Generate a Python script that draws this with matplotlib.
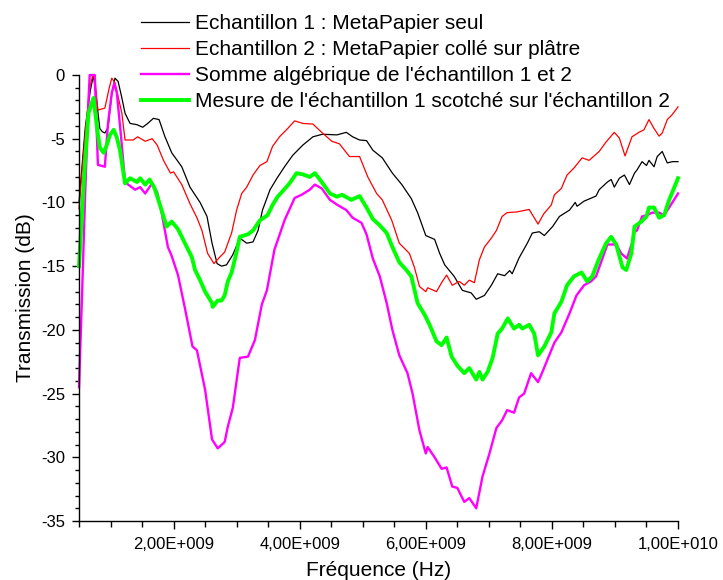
import numpy as np
import matplotlib
matplotlib.use("Agg")
import matplotlib.pyplot as plt
from matplotlib.ticker import FixedLocator, FuncFormatter, MultipleLocator

plt.rcParams['font.family'] = ['Liberation Sans', 'DejaVu Sans']
plt.rcParams['axes.unicode_minus'] = False

# ---- data (frequency in GHz, transmission in dB) ----
f_ech1 = [0.50, 0.60, 0.68, 0.73, 0.79, 0.83, 0.87, 0.91, 0.96, 1.02, 1.07, 1.12, 1.18, 1.23, 1.31,
          1.42, 1.51, 1.59, 1.68, 1.77, 1.86, 1.97, 2.13, 2.26, 2.42, 2.53, 2.61, 2.69, 2.76, 2.84,
          2.94, 3.05, 3.16, 3.26, 3.34, 3.41, 3.53, 3.64, 3.76, 3.89, 4.05, 4.21, 4.36, 4.59, 4.74,
          4.84, 4.95, 5.06, 5.16, 5.31, 5.47, 5.62, 5.77, 5.87, 6.00, 6.14, 6.22, 6.30, 6.45, 6.58,
          6.72, 6.80, 6.93, 7.04, 7.14, 7.25, 7.33, 7.37, 7.48, 7.61, 7.69, 7.80, 7.88, 8.01, 8.12,
          8.28, 8.37, 8.40, 8.51, 8.70, 8.75, 8.88, 8.94, 8.99, 9.07, 9.15, 9.23, 9.31, 9.35, 9.43,
          9.50, 9.54, 9.62, 9.67, 9.75, 9.83, 9.91, 10.0]
t_ech1 = [-10.0, -4.1, -1.2, 0.0, -2.5, -4.2, -4.45, -4.55, -4.15, -1.5, -0.25, -0.5, -1.8, -3.0, -3.8,
          -3.9, -4.1, -3.8, -3.4, -3.5, -4.8, -6.1, -7.2, -8.8, -10.0, -11.1, -13.2, -14.8, -15.0, -14.9,
          -14.1, -12.8, -13.2, -13.1, -12.2, -10.6, -9.0, -8.1, -7.2, -6.3, -5.5, -4.85, -4.65, -4.7, -4.5,
          -4.85, -5.1, -5.15, -5.9, -6.5, -7.7, -8.6, -9.7, -10.8, -12.6, -12.9, -14.0, -14.9, -15.8, -16.9,
          -17.1, -17.6, -17.3, -16.5, -15.6, -15.75, -15.35, -15.6, -14.35, -13.2, -12.4, -12.3, -12.6, -11.9, -11.1,
          -10.6, -10.0, -10.3, -9.9, -9.5, -9.0, -8.4, -8.2, -8.8, -8.1, -7.85, -8.6, -7.7, -7.45, -6.8,
          -7.1, -6.7, -7.2, -6.4, -6.0, -6.9, -6.8, -6.8]

f_ech2 = [0.50, 0.60, 0.67, 0.72, 0.75, 0.80, 0.91, 0.98, 1.02, 1.07, 1.18, 1.23, 1.36, 1.43, 1.55,
          1.66, 1.74, 1.84, 1.95, 2.00, 2.13, 2.26, 2.37, 2.45, 2.54, 2.64, 2.73, 2.81, 2.92, 3.00,
          3.08, 3.16, 3.26, 3.37, 3.48, 3.57, 3.68, 3.81, 3.92, 4.05, 4.21, 4.36, 4.51, 4.63, 4.79,
          4.95, 5.08, 5.22, 5.31, 5.46, 5.58, 5.74, 5.82, 5.90, 6.00, 6.03, 6.17, 6.25, 6.33, 6.42,
          6.53, 6.61, 6.69, 6.77, 6.85, 6.93, 7.04, 7.12, 7.21, 7.29, 7.44, 7.64, 7.78, 7.87, 7.99,
          8.04, 8.15, 8.24, 8.35, 8.48, 8.59, 8.75, 8.86, 8.99, 9.07, 9.16, 9.27, 9.38, 9.46, 9.54,
          9.62, 9.70, 9.75, 9.83, 9.91, 10.0]
t_ech2 = [-10.5, -4.5, -1.0, 0.0, -0.2, -2.75, -2.6, -1.0, -0.25, -0.6, -3.0, -5.1, -5.1, -4.85, -5.2,
          -5.0, -5.5, -6.7, -7.7, -7.6, -8.6, -10.1, -11.2, -12.2, -14.0, -14.8, -14.3, -13.9, -12.4, -10.6,
          -9.3, -8.8, -7.85, -7.1, -6.8, -5.6, -4.85, -4.2, -3.6, -3.8, -3.85, -4.55, -5.2, -5.4, -6.4,
          -6.4, -8.0, -9.3, -9.8, -11.4, -13.2, -14.0, -15.1, -16.6, -17.0, -16.7, -17.0, -16.3, -15.7, -16.5,
          -16.2, -16.5, -16.1, -16.3, -14.5, -13.5, -12.8, -12.2, -11.1, -10.8, -10.75, -10.55, -11.7, -10.9, -10.2,
          -9.4, -8.9, -7.85, -7.3, -6.5, -6.7, -6.0, -5.25, -4.5, -4.95, -6.35, -4.85, -4.5, -4.3, -3.5,
          -4.2, -4.8, -4.55, -3.5, -3.1, -2.5]

f_somme = [0.50, 0.55, 0.60, 0.65, 0.67, 0.75, 0.80, 0.91, 0.96, 1.02, 1.06, 1.10, 1.17, 1.23, 1.28,
           1.39, 1.47, 1.55, 1.59, 1.66, 1.74, 1.81, 1.91, 1.97, 2.07, 2.18, 2.30, 2.37, 2.50, 2.61,
           2.70, 2.81, 2.86, 2.94, 3.05, 3.18, 3.29, 3.40, 3.48, 3.60, 3.76, 3.92, 4.03, 4.16, 4.24,
           4.35, 4.48, 4.60, 4.74, 4.84, 4.98, 5.06, 5.16, 5.27, 5.38, 5.47, 5.58, 5.71, 5.79, 5.90,
           6.00, 6.03, 6.14, 6.25, 6.33, 6.42, 6.50, 6.61, 6.69, 6.80, 6.90, 7.01, 7.12, 7.21, 7.29,
           7.40, 7.48, 7.56, 7.67, 7.78, 7.85, 8.04, 8.15, 8.28, 8.39, 8.51, 8.62, 8.70, 8.78, 8.88,
           9.02, 9.10, 9.19, 9.27, 9.31, 9.35, 9.43, 9.51, 9.59, 9.70, 9.78, 9.86, 10.0]
t_somme = [-24.5, -17.0, -9.0, -2.0, 0.0, 0.0, -7.05, -7.2, -3.8, -1.4, -0.65, -1.4, -5.0, -8.4, -8.6,
           -9.0, -8.8, -9.3, -9.0, -8.5, -9.2, -10.8, -13.5, -14.2, -15.7, -18.3, -21.3, -21.6, -24.7, -28.6,
           -29.3, -28.8, -27.6, -26.1, -22.2, -22.1, -20.8, -18.0, -16.9, -13.7, -11.4, -9.65, -9.4, -9.0, -8.6,
           -8.9, -9.8, -10.2, -10.6, -11.2, -11.6, -12.5, -14.4, -15.8, -17.9, -20.0, -22.0, -23.4, -25.0, -27.9,
           -29.7, -29.2, -30.0, -30.9, -30.8, -32.3, -32.4, -33.5, -33.2, -34.0, -31.5, -29.7, -27.7, -27.1, -26.3,
           -26.5, -25.3, -25.0, -23.4, -24.1, -23.3, -21.0, -20.2, -18.7, -17.3, -16.5, -16.2, -15.8, -14.7, -13.3,
           -13.3, -14.0, -14.4, -13.2, -12.3, -12.2, -11.1, -11.0, -10.8, -10.8, -11.0, -10.4, -9.3]

f_mesure = [0.50, 0.58, 0.65, 0.73, 0.79, 0.83, 0.89, 0.94, 0.99, 1.05, 1.10, 1.15, 1.23, 1.31, 1.42,
            1.47, 1.55, 1.62, 1.70, 1.81, 1.89, 1.97, 2.07, 2.18, 2.29, 2.34, 2.42, 2.50, 2.61, 2.62,
            2.70, 2.76, 2.81, 2.86, 2.92, 2.99, 3.05, 3.18, 3.26, 3.37, 3.49, 3.57, 3.65, 3.76, 3.84,
            3.95, 4.05, 4.16, 4.24, 4.32, 4.48, 4.59, 4.67, 4.82, 4.95, 5.06, 5.16, 5.27, 5.38, 5.47,
            5.58, 5.69, 5.77, 5.87, 5.98, 6.06, 6.17, 6.25, 6.33, 6.41, 6.50, 6.61, 6.69, 6.80, 6.85,
            6.90, 6.98, 7.06, 7.14, 7.21, 7.30, 7.40, 7.48, 7.53, 7.64, 7.72, 7.78, 7.88, 7.99, 8.04,
            8.15, 8.24, 8.35, 8.47, 8.56, 8.64, 8.75, 8.86, 8.94, 9.02, 9.12, 9.18, 9.26, 9.31, 9.42,
            9.50, 9.54, 9.62, 9.70, 9.78, 9.86, 10.0]
t_mesure = [-15.0, -8.0, -3.0, -1.8, -4.3, -5.7, -6.1, -5.5, -4.7, -4.3, -4.9, -5.9, -8.5, -8.1, -8.4,
            -8.1, -8.6, -8.2, -8.9, -10.6, -11.9, -11.5, -12.1, -13.2, -14.3, -15.3, -16.1, -17.0, -17.9, -18.2,
            -17.7, -17.7, -17.3, -16.2, -15.5, -14.1, -12.7, -12.5, -12.2, -11.4, -11.0, -10.2, -9.55, -8.95, -8.5,
            -7.7, -7.8, -8.0, -7.7, -8.2, -9.3, -9.55, -9.4, -9.8, -9.5, -10.4, -11.3, -11.8, -12.4, -13.5,
            -14.7, -15.3, -15.8, -17.9, -18.8, -19.6, -20.9, -21.2, -20.6, -22.1, -22.8, -23.4, -23.0, -23.9, -23.3,
            -23.9, -23.3, -22.2, -20.3, -19.9, -19.1, -19.9, -19.6, -19.9, -19.6, -20.3, -22.0, -21.3, -20.2, -18.7,
            -17.8, -16.5, -15.8, -15.5, -16.2, -15.8, -14.4, -13.2, -12.7, -13.3, -15.1, -15.3, -14.0, -11.9, -11.5,
            -11.1, -10.4, -10.4, -11.2, -11.0, -9.8, -8.1]

labels = ["Echantillon 1 : MetaPapier seul",
          "Echantillon 2 : MetaPapier collé sur plâtre",
          "Somme algébrique de l'échantillon 1 et 2",
          "Mesure de l'échantillon 1 scotché sur l'échantillon 2"]
x_label = "Fréquence (Hz)"
y_label = "Transmission (dB)"

# ---- figure ----
fig = plt.figure(figsize=(7.23, 5.80), dpi=100)
ax = fig.add_axes([79/723, 1 - 521/580, (678 - 79)/723, (521 - 75)/580])

GHz = 1e9
series = [(f_ech1, t_ech1, '#000000', 0.9),
          (f_ech2, t_ech2, '#FF0000', 0.9),
          (f_somme, t_somme, '#FF00FF', 1.7),
          (f_mesure, t_mesure, '#00FF00', 2.8)]
handles = []
for (f, t, c, lw), lab in zip(series, labels):
    h, = ax.plot(np.array(f) * GHz, t, color=c, lw=lw, label=lab, clip_on=False,
                 solid_joinstyle='round')
    handles.append(h)

ax.set_xlim(0.5e9, 1.0e10)
ax.set_ylim(-35, 0)

for s in ['top', 'right']:
    ax.spines[s].set_visible(False)
for s in ['left', 'bottom']:
    ax.spines[s].set_linewidth(1.0)


def sci_fmt(v, pos):
    if v <= 0:
        return ""
    e = int(np.floor(np.log10(v) + 1e-9))
    m = v / 10 ** e
    return f"{m:.2f}".replace('.', ',') + f"E+{e:03d}"


ax.xaxis.set_major_locator(FixedLocator([2e9, 4e9, 6e9, 8e9, 1e10]))
ax.xaxis.set_major_formatter(FuncFormatter(sci_fmt))
ax.xaxis.set_minor_locator(MultipleLocator(5e8))
ax.yaxis.set_major_locator(MultipleLocator(5))
ax.yaxis.set_minor_locator(MultipleLocator(1))
ax.yaxis.set_major_formatter(FuncFormatter(lambda v, p: f"{int(round(v))}"))

ax.tick_params(axis='x', which='major', direction='out', length=5.5, width=1.0, labelsize=12, pad=6)
ax.tick_params(axis='x', which='minor', direction='out', length=4.5, width=1.0)
ax.tick_params(axis='y', which='major', direction='out', length=5, width=1.0, labelsize=12, pad=5)
ax.tick_params(axis='y', which='minor', direction='out', length=3, width=1.0)

ax.set_xlabel(x_label, fontsize=15)
ax.set_ylabel(y_label, fontsize=15)
ax.xaxis.set_label_coords(0.5, (521 - 561) / 446)
ax.yaxis.set_label_coords((35 - 79) / 599, 0.5)

fig.legend(handles, labels, loc='upper left', bbox_to_anchor=(141/723, 1 - 14/580),
           frameon=False, fontsize=15, borderpad=0, borderaxespad=0,
           handlelength=2.3, handletextpad=0.3, labelspacing=0.34)

fig.savefig("out.png", dpi=100)
